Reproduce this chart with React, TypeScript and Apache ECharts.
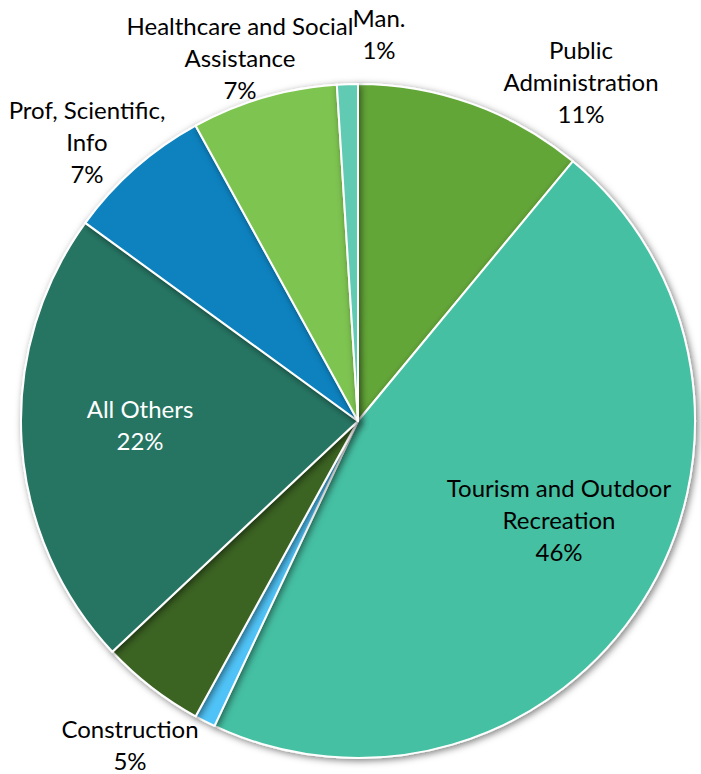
import React, { useEffect, useRef } from "react";
import * as echarts from "echarts";

const categories = [
  "Public Administration",
  "Tourism and Outdoor Recreation",
  "Other",
  "Construction",
  "All Others",
  "Prof, Scientific, Info",
  "Healthcare and Social Assistance",
  "Man.",
];
const labelTexts = [
  "Public\nAdministration",
  "Tourism and Outdoor\nRecreation",
  "",
  "Construction",
  "All Others",
  "Prof, Scientific,\nInfo",
  "Healthcare and Social\nAssistance",
  "Man.",
];
const values = [11, 46, 1, 5, 22, 7, 7, 1];
const colors = ["#63a639", "#44c0a3", "#4fc3f7", "#3b6324", "#277563", "#0a82bf", "#7ec451", "#60cbb2"];
const labelColors = ["#000", "#000", "#000", "#000", "#fff", "#000", "#000", "#000"];
const showLabel = [true, true, false, true, true, true, true, true];

// label centres (layout only)
const labelPos: Record<string, [number, number]> = {
  "Public Administration": [581, 81],
  "Tourism and Outdoor Recreation": [559, 519],
  "Construction": [130, 744],
  "All Others": [140, 424],
  "Prof, Scientific, Info": [87, 141],
  "Healthcare and Social Assistance": [240, 57],
  "Man.": [379, 33],
};

export default function App() {
  const ref = useRef<HTMLDivElement>(null);
  useEffect(() => {
    if (!ref.current) return;
    const chart = echarts.init(ref.current, null, { renderer: "svg" });
    chart.setOption({
      animation: false,
      backgroundColor: "#fff",
      series: [
        {
          type: "pie",
          center: [358, 421],
          radius: [0, 337],
          startAngle: 90,
          clockwise: true,
          avoidLabelOverlap: false,
          labelLine: { show: false },
          itemStyle: {
            borderColor: "#fff",
            borderWidth: 2,
            shadowBlur: 7,
            shadowOffsetX: 2,
            shadowOffsetY: 2,
            shadowColor: "rgba(0,0,0,0.5)",
          },
          label: {
            show: true,
            position: "outside",
            fontFamily: "Lato",
            fontSize: 24,
            lineHeight: 32,
            align: "center",
          },
          labelLayout: (params: any) => {
            const name = categories[params.dataIndex];
            const p = labelPos[name];
            if (!p) return {};
            return {
              x: p[0],
              y: p[1],
              align: "center",
              verticalAlign: "middle",
            };
          },
          data: categories.map((c, i) => ({
            name: c,
            value: values[i],
            itemStyle: { color: colors[i] },
            label: {
              show: showLabel[i],
              color: labelColors[i],
              formatter: (p: any) => `${labelTexts[i]}\n${Math.round(p.percent)}%`,
            },
          })),
        },
      ],
    });
    return () => chart.dispose();
  }, []);
  return (
    <div
      ref={ref}
      style={{ position: "fixed", left: 0, top: 0, width: 701, height: 774 }}
    />
  );
}
